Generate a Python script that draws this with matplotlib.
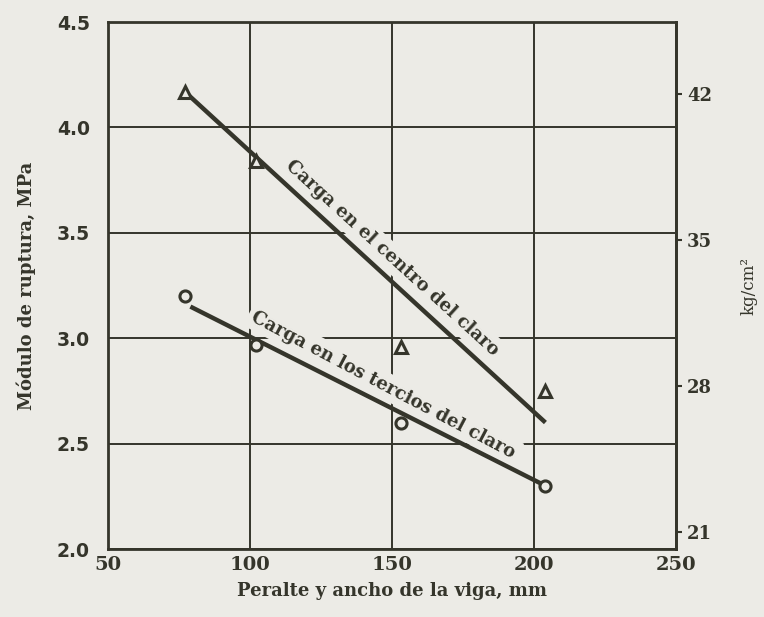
import matplotlib.pyplot as plt

# datos
peralte = [77, 102, 153, 204]              # mm
carga_centro = [4.17, 3.84, 2.96, 2.75]    # MPa, triangulos
carga_tercios = [3.20, 2.97, 2.60, 2.30]   # MPa, circulos

# rectas de ajuste (extremos leidos)
recta_x_centro = [77, 204]
recta_y_centro = [4.17, 2.60]
recta_x_tercios = [79, 204]
recta_y_tercios = [3.15, 2.30]

xticks = [50, 100, 150, 200, 250]
yticks = [2.0, 2.5, 3.0, 3.5, 4.0, 4.5]
kg_ticks = [21, 28, 35, 42]

fondo = '#ecebe6'
tinta = '#35352b'
serif = 'DejaVu Serif'

fig = plt.figure(figsize=(7.64, 6.17), dpi=100, facecolor=fondo)
ax = fig.add_axes([0.1414, 0.1102, 0.7435, 0.8541], facecolor=fondo)

ax.set_xlim(50, 250)
ax.set_ylim(2.0, 4.5)
ax.set_xticks(xticks)
ax.set_yticks(yticks)
ax.set_xticklabels([str(v) for v in xticks], fontfamily=serif, fontweight='bold',
                   fontsize=14, color=tinta)
ax.set_yticklabels([f'{v:.1f}' for v in yticks], fontfamily='DejaVu Sans',
                   fontweight='bold', fontsize=13.5, color=tinta)
ax.tick_params(axis='x', length=0, pad=5)
ax.tick_params(axis='y', length=0, pad=13)

ax.set_axisbelow(True)
ax.grid(True, color=tinta, linewidth=1.4)
for s in ax.spines.values():
    s.set_color(tinta)
    s.set_linewidth(2)

# rectas
ax.plot(recta_x_centro, recta_y_centro, color=tinta, linewidth=3.2, zorder=4,
        solid_capstyle='butt')
ax.plot(recta_x_tercios, recta_y_tercios, color=tinta, linewidth=3.2, zorder=4,
        solid_capstyle='butt')

# puntos
ax.plot(peralte, carga_centro, linestyle='none', marker='^', markersize=9,
        markerfacecolor=fondo, markeredgecolor=tinta, markeredgewidth=2.2, zorder=5)
ax.plot(peralte, carga_tercios, linestyle='none', marker='o', markersize=8,
        markerfacecolor=fondo, markeredgecolor=tinta, markeredgewidth=2.2, zorder=5)

caja = dict(facecolor=fondo, edgecolor='none', pad=3)
ax.text(150, 3.38, 'Carga en el centro del claro', rotation=-42.3,
        rotation_mode='anchor', ha='center', va='center', fontfamily=serif,
        fontweight='bold', fontsize=13, color=tinta, bbox=caja, zorder=3)
ax.text(147, 2.78, 'Carga en los tercios del claro', rotation=-27.8,
        rotation_mode='anchor', ha='center', va='center', fontfamily=serif,
        fontweight='bold', fontsize=13, color=tinta, bbox=caja, zorder=3)

ax.set_xlabel('Peralte y ancho de la viga, mm', fontfamily=serif, fontweight='bold',
              fontsize=13, color=tinta, labelpad=6)
ax.set_ylabel('Módulo de ruptura, MPa', fontfamily=serif, fontweight='bold',
              fontsize=13, color=tinta, labelpad=15)

# eje secundario kg/cm2
sec = ax.secondary_yaxis('right', functions=(lambda m: m * 10.1, lambda k: k / 10.1))
sec.set_yticks(kg_ticks)
sec.set_yticklabels([str(v) for v in kg_ticks], fontfamily=serif, fontweight='bold',
                    fontsize=13, color=tinta)
sec.tick_params(length=4, width=1.5, color=tinta, pad=4)
sec.spines['right'].set_color(tinta)
sec.spines['right'].set_linewidth(2)
sec.set_ylabel('kg/cm²', fontfamily=serif, fontsize=12, color=tinta, labelpad=20)

plt.savefig('out.png', dpi=100, facecolor=fondo)
